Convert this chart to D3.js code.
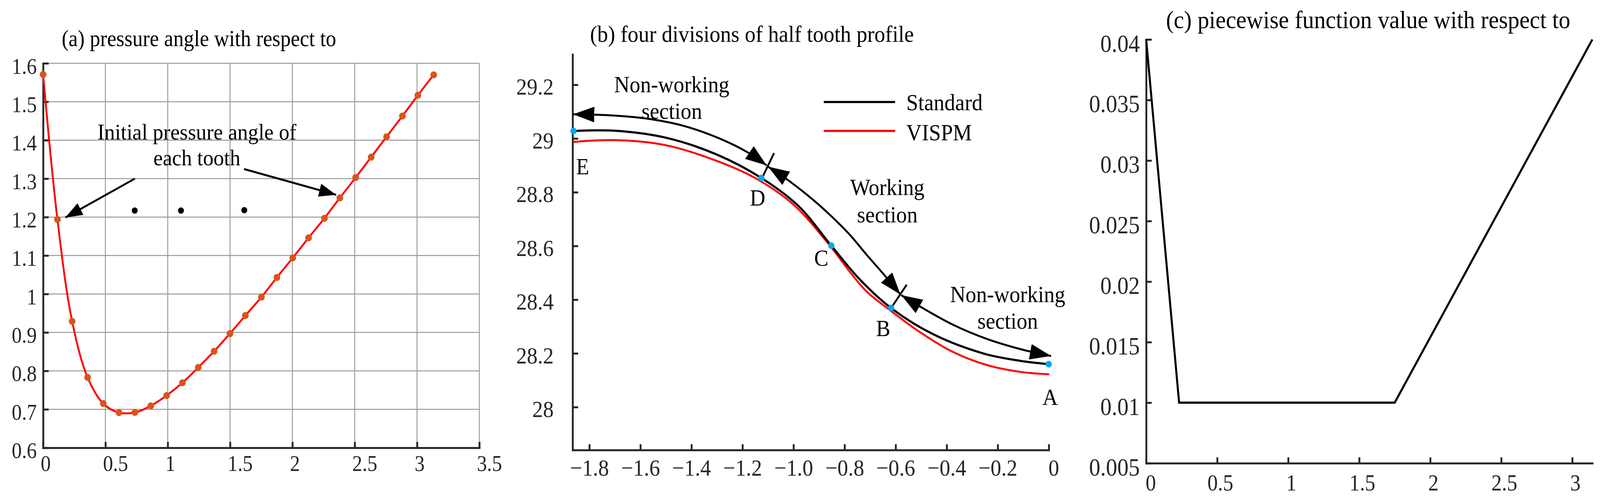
<!DOCTYPE html>
<html>
<head>
<meta charset="utf-8">
<script src="https://cdn.jsdelivr.net/npm/d3@7"></script>
<style>
  html, body { margin: 0; padding: 0; background: #fff; overflow: hidden; }
  svg { display: block; }
  svg text { font-family: "Liberation Serif", "Times New Roman", Times, serif; }
</style>
</head>
<body>
<svg id="chart"></svg>
<script>
// ---------------- DATA ----------------
// (a) pressure angle
const aTicksX = [0, 0.5, 1, 1.5, 2, 2.5, 3, 3.5];
const aTickLabelsX = ["0", "0.5", "1", "1.5", "2", "2.5", "3", "3.5"];
const aTicksY = [0.6, 0.7, 0.8, 0.9, 1.0, 1.1, 1.2, 1.3, 1.4, 1.5, 1.6];
const aTickLabelsY = ["0.6", "0.7", "0.8", "0.9", "1", "1.1", "1.2", "1.3", "1.4", "1.5", "1.6"];
const angleX = [0, 0.115, 0.233, 0.357, 0.483, 0.609, 0.737, 0.864, 0.991, 1.118, 1.245, 1.372, 1.499,
                1.623, 1.752, 1.876, 2.003, 2.130, 2.257, 2.381, 2.508, 2.632, 2.756, 2.883, 3.007, 3.134];
const angleY = [1.571, 1.194, 0.929, 0.783, 0.715, 0.6915, 0.692, 0.709, 0.736, 0.769, 0.809, 0.851, 0.897,
                0.944, 0.992, 1.043, 1.094, 1.146, 1.197, 1.250, 1.303, 1.356, 1.409, 1.463, 1.517, 1.570];
const ellipsisX = [0.735, 1.106, 1.614];
const ellipsisY = [1.217, 1.217, 1.218];
const aNoteLines = ["Initial pressure angle of", "each tooth"];
const aNoteX = 1.234;
const aNoteY = [1.402, 1.335];
const aArrowFromX = [0.736, 1.612];
const aArrowFromY = [1.300, 1.325];
const aArrowToX = [0.179, 2.351];
const aArrowToY = [1.199, 1.258];

// (b) four divisions of half tooth profile
const bTicksX = [-1.8, -1.6, -1.4, -1.2, -1.0, -0.8, -0.6, -0.4, -0.2, 0];
const bTickLabelsX = ["\u22121.8", "\u22121.6", "\u22121.4", "\u22121.2", "\u22121.0", "\u22120.8", "\u22120.6", "\u22120.4", "\u22120.2", "0"];
const bTicksY = [28, 28.2, 28.4, 28.6, 28.8, 29, 29.2];
const bTickLabelsY = ["28", "28.2", "28.4", "28.6", "28.8", "29", "29.2"];
const stdX = [-1.862, -1.70, -1.50, -1.30, -1.126, -0.98, -0.852, -0.74, -0.618, -0.45, -0.25, -0.11, 0];
const stdY = [29.028, 29.029, 29.003, 28.940, 28.853, 28.748, 28.601, 28.475, 28.369, 28.270, 28.198, 28.172, 28.160];
const vispmX = [-1.8635, -1.70, -1.50, -1.288, -1.143, -0.998, -0.853, -0.778, -0.712, -0.618, -0.511, -0.377, -0.244, -0.110, 0.002];
const vispmY = [28.987, 28.994, 28.975, 28.912, 28.849, 28.752, 28.596, 28.502, 28.429, 28.358, 28.283, 28.206, 28.157, 28.131, 28.122];
const keyLabels = ["E", "D", "C", "B", "A"];
const keyX = [-1.862, -1.126, -0.852, -0.618, -0.0003];
const keyY = [29.028, 28.853, 28.601, 28.369, 28.160];
const arrow1X = [-1.8635, -1.722, -1.577, -1.433, -1.288, -1.179, -1.1053];
const arrow1Y = [29.090, 29.0866, 29.0745, 29.0478, 28.9993, 28.948, 28.8998];
const arrow2X = [-1.0994, -1.0235, -0.9256, -0.8533, -0.7808, -0.7116, -0.6448, -0.5813];
const arrow2Y = [28.895, 28.8464, 28.7736, 28.712, 28.643, 28.565, 28.4922, 28.4194];
const arrow3X = [-0.578, -0.4977, -0.3773, -0.2437, -0.110, 0.009];
const arrow3Y = [28.4169, 28.3708, 28.3077, 28.2543, 28.2156, 28.1903];
const dividerX = [[-1.0763, -1.1197], [-0.5566, -0.6128]];
const dividerY = [[28.9458, 28.860], [28.4558, 28.3758]];
const sectionLines = [["Non-working", "section"], ["Working", "section"], ["Non-working", "section"]];
const sectionX = [-1.477, -0.6325, -0.1609];
const sectionY = [[29.1725, 29.0735], [28.7896, 28.688], [28.3905, 28.2913]];
const legendLabels = ["Standard", "VISPM"];

// (c) piecewise function value
const cTicksX = [0, 0.5, 1, 1.5, 2, 2.5, 3];
const cTickLabelsX = ["0", "0.5", "1", "1.5", "2", "2.5", "3"];
const cTicksY = [0.005, 0.01, 0.015, 0.02, 0.025, 0.03, 0.035, 0.04];
const cTickLabelsY = ["0.005", "0.01", "0.015", "0.02", "0.025", "0.03", "0.035", "0.04"];
const pieceX = [0, 0.232, 1.750, 3.1416];
const pieceY = [0.04, 0.01, 0.01, 0.04];

const titles = ["(a) pressure angle with respect to", "(b) four divisions of half tooth profile", "(c) piecewise function value with respect to"];

// ---------------- DRAW ----------------
const W = 4306, H = 1287;
const FONT = '"Liberation Serif","Times New Roman",Times,serif';
const AXC = "#262626";
const dpr = window.devicePixelRatio || 1;
const vw = Math.min(window.innerWidth || W, W / dpr);
const vh = Math.min(window.innerHeight || H, H / dpr);
const svg = d3.select("#chart")
  .attr("width", vw).attr("height", vh)
  .attr("viewBox", `0 0 ${W} ${H}`)
  .attr("preserveAspectRatio", "none");
const defs = svg.append("defs");

function headMarker(id, len, wid) {
  defs.append("marker").attr("id", id)
    .attr("markerUnits", "userSpaceOnUse")
    .attr("viewBox", `0 ${-wid / 2} ${len} ${wid}`)
    .attr("markerWidth", len).attr("markerHeight", wid)
    .attr("refX", len).attr("refY", 0)
    .attr("orient", "auto-start-reverse")
    .append("path").attr("d", `M0,${-wid / 2}L${len},0L0,${wid / 2}Z`).attr("fill", "#000");
}
headMarker("headA", 46, 34);
headMarker("headB", 57, 40);

// horizontally condense text about its anchor point (the reference type is narrow)
function condense(sel, sx) {
  sel.each(function () {
    const t = d3.select(this);
    const x = +t.attr("x") || 0, y = +t.attr("y") || 0;
    t.attr("transform", `translate(${x},${y}) scale(${sx},1) translate(${-x},${-y})`);
  });
}

function styleAxis(g, fs) {
  g.attr("font-family", FONT).attr("font-size", fs);
  g.select(".domain").attr("stroke", AXC).attr("stroke-width", 5).attr("stroke-linecap", "square");
  g.selectAll(".tick line").attr("stroke", AXC).attr("stroke-width", 5);
  g.selectAll(".tick text").attr("fill", AXC);
}

// ===== Panel (a) =====
const ax = d3.scaleLinear().domain([0, 3.5]).range([116, 1290]);
const ay = d3.scaleLinear().domain([0.6, 1.6]).range([1145.7, 162]);
const ga = svg.append("g");
const gridA = ga.append("g").attr("stroke", "#9a9a9a").attr("stroke-width", 2.5);
gridA.selectAll("line.v").data(aTicksX).join("line").attr("class", "v")
  .attr("x1", d => ax(d)).attr("x2", d => ax(d)).attr("y1", ay(0.6)).attr("y2", ay(1.6));
gridA.selectAll("line.h").data(aTicksY).join("line").attr("class", "h")
  .attr("x1", ax(0)).attr("x2", ax(3.5)).attr("y1", d => ay(d)).attr("y2", d => ay(d));

const gaX = ga.append("g").attr("transform", `translate(0,${ay(0.6)})`)
  .call(d3.axisBottom(ax).tickValues(aTicksX).tickFormat((d, i) => aTickLabelsX[i]).tickSizeInner(-15).tickSizeOuter(0));
styleAxis(gaX, 58);
gaX.selectAll(".tick text").attr("text-anchor", "start").attr("x", -7).attr("y", 59).attr("dy", 0);
condense(gaX.selectAll(".tick text"), 0.93);
const gaY = ga.append("g").attr("transform", `translate(${ax(0)},0)`)
  .call(d3.axisLeft(ay).tickValues(aTicksY).tickFormat((d, i) => aTickLabelsY[i]).tickSizeInner(-15).tickSizeOuter(0).tickPadding(17));
styleAxis(gaY, 58);
gaY.selectAll(".tick text").attr("dy", 26);
condense(gaY.selectAll(".tick text"), 0.93);

const aPts = angleX.map((x, i) => [x, angleY[i]]);
ga.append("path").datum(aPts)
  .attr("d", d3.line().x(d => ax(d[0])).y(d => ay(d[1])).curve(d3.curveCatmullRom.alpha(0.5)))
  .attr("fill", "none").attr("stroke", "#ff0000").attr("stroke-width", 5);
ga.selectAll("circle.m").data(aPts).join("circle").attr("class", "m")
  .attr("cx", d => ax(d[0])).attr("cy", d => ay(d[1])).attr("r", 9).attr("fill", "#d9541e");
ga.selectAll("circle.e").data(ellipsisX).join("circle").attr("class", "e")
  .attr("cx", d => ax(d)).attr("cy", (d, i) => ay(ellipsisY[i])).attr("r", 8).attr("fill", "#000");
const aNotes = ga.selectAll("text.note").data(aNoteLines).join("text").attr("class", "note")
  .attr("x", ax(aNoteX)).attr("y", (d, i) => ay(aNoteY[i])).attr("text-anchor", "middle")
  .attr("font-size", 58).attr("fill", "#000").text(d => d);
condense(aNotes, 0.975);
ga.selectAll("line.arr").data(aArrowFromX).join("line").attr("class", "arr")
  .attr("x1", d => ax(d)).attr("y1", (d, i) => ay(aArrowFromY[i]))
  .attr("x2", (d, i) => ax(aArrowToX[i])).attr("y2", (d, i) => ay(aArrowToY[i]))
  .attr("stroke", "#000").attr("stroke-width", 5).attr("marker-end", "url(#headA)");
condense(ga.append("text").attr("x", 166).attr("y", 118).attr("font-size", 60).attr("fill", "#000").text(titles[0]), 0.93);

// ===== Panel (b) =====
const bx = d3.scaleLinear().domain([-1.8656, 0]).range([1541, 2822.5]);
const by = d3.scaleLinear().domain([27.84, 29.313]).range([1151.6, 139.3]);
const gb = svg.append("g");
const gbX = gb.append("g").attr("transform", `translate(0,${by(27.84)})`)
  .call(d3.axisBottom(bx).tickValues(bTicksX).tickFormat((d, i) => bTickLabelsX[i]).tickSizeInner(-15).tickSizeOuter(0));
styleAxis(gbX, 60);
gbX.selectAll(".tick text").attr("y", 65).attr("dy", 0).attr("x", d => d === 0 ? 13 : 0);
condense(gbX.selectAll(".tick text"), 0.96);
const gbY = gb.append("g").attr("transform", `translate(${bx(-1.8656)},0)`)
  .call(d3.axisLeft(by).tickValues(bTicksY).tickFormat((d, i) => bTickLabelsY[i]).tickSizeInner(-15).tickSizeOuter(0).tickPadding(51));
styleAxis(gbY, 60);
gbY.selectAll(".tick text").attr("dy", 25);
condense(gbY.selectAll(".tick text"), 0.96);

const bLine = d3.line().x(d => bx(d[0])).y(d => by(d[1])).curve(d3.curveCatmullRom.alpha(0.5));
gb.append("path").datum(vispmX.map((x, i) => [x, vispmY[i]])).attr("d", bLine)
  .attr("fill", "none").attr("stroke", "#ff0000").attr("stroke-width", 5);
gb.append("path").datum(stdX.map((x, i) => [x, stdY[i]])).attr("d", bLine)
  .attr("fill", "none").attr("stroke", "#000").attr("stroke-width", 5.5);

[[arrow1X, arrow1Y], [arrow2X, arrow2Y], [arrow3X, arrow3Y]].forEach(([xs, ys]) => {
  gb.append("path").datum(xs.map((x, i) => [x, ys[i]])).attr("d", bLine)
    .attr("fill", "none").attr("stroke", "#000").attr("stroke-width", 5)
    .attr("marker-start", "url(#headB)").attr("marker-end", "url(#headB)");
});
gb.selectAll("line.div").data(dividerX).join("line").attr("class", "div")
  .attr("x1", d => bx(d[0])).attr("x2", d => bx(d[1]))
  .attr("y1", (d, i) => by(dividerY[i][0])).attr("y2", (d, i) => by(dividerY[i][1]))
  .attr("stroke", "#000").attr("stroke-width", 5);

gb.selectAll("circle.k").data(keyX).join("circle").attr("class", "k")
  .attr("cx", d => bx(d)).attr("cy", (d, i) => by(keyY[i])).attr("r", 8.5).attr("fill", "#05a8ee");
const keyOff = [[7, 111, "start"], [-10, 71, "middle"], [-27, 51, "middle"], [-21, 72, "middle"], [4, 104, "middle"]];
const keyTexts = gb.selectAll("text.k").data(keyLabels).join("text").attr("class", "k")
  .attr("x", (d, i) => bx(keyX[i]) + keyOff[i][0]).attr("y", (d, i) => by(keyY[i]) + keyOff[i][1])
  .attr("text-anchor", (d, i) => keyOff[i][2]).attr("font-size", 59).attr("fill", "#000").text(d => d);
condense(keyTexts, 0.975);

sectionLines.forEach((lines, k) => {
  const s = gb.selectAll(`text.s${k}`).data(lines).join("text").attr("class", `s${k}`)
    .attr("x", bx(sectionX[k])).attr("y", (d, i) => by(sectionY[k][i]))
    .attr("text-anchor", "middle").attr("font-size", 59).attr("fill", "#000").text(d => d);
  condense(s, 0.975);
});

const legColors = ["#000", "#ff0000"];
const leg = gb.append("g").attr("transform", "translate(2217,261)");
leg.selectAll("line").data(legendLabels).join("line")
  .attr("x1", 0).attr("x2", 192).attr("y1", (d, i) => i * 74).attr("y2", (d, i) => i * 74)
  .attr("stroke", (d, i) => legColors[i]).attr("stroke-width", 5.5);
condense(leg.selectAll("text").data(legendLabels).join("text")
  .attr("x", 222).attr("y", (d, i) => i * 77 + 21).attr("font-size", 59).attr("fill", "#000").text(d => d), 0.98);
condense(gb.append("text").attr("x", 1588).attr("y", 107).attr("font-size", 60).attr("fill", "#000").text(titles[1]), 0.965);

// ===== Panel (c) =====
const cx = d3.scaleLinear().domain([0, 3.1416]).range([3084.6, 4285.4]);
const cy = d3.scaleLinear().domain([0.005, 0.04]).range([1185.2, 101]);
const gc = svg.append("g");
const gcX = gc.append("g").attr("transform", `translate(0,${cy(0.005)})`)
  .call(d3.axisBottom(cx).tickValues(cTicksX).tickFormat((d, i) => cTickLabelsX[i]).tickSizeInner(-15).tickSizeOuter(0));
styleAxis(gcX, 60);
gcX.selectAll(".tick text").attr("y", 70).attr("dy", 0).attr("x", d => d === 0 ? 12 : 8);
condense(gcX.selectAll(".tick text"), 0.93);
const gcY = gc.append("g").attr("transform", `translate(${cx(0)},0)`)
  .call(d3.axisLeft(cy).tickValues(cTicksY).tickFormat((d, i) => cTickLabelsY[i]).tickSizeInner(-15).tickSizeOuter(0).tickPadding(17));
styleAxis(gcY, 64);
gcY.selectAll(".tick text").attr("dy", 31);
condense(gcY.selectAll(".tick text"), 0.95);
gc.append("path").datum(pieceX.map((x, i) => [x, pieceY[i]]))
  .attr("d", d3.line().x(d => cx(d[0])).y(d => cy(d[1])))
  .attr("fill", "none").attr("stroke", "#000").attr("stroke-width", 5.5).attr("stroke-linejoin", "miter");
condense(gc.append("text").attr("x", 3138).attr("y", 72).attr("font-size", 64).attr("fill", "#000").text(titles[2]), 0.975);
</script>
</body>
</html>
